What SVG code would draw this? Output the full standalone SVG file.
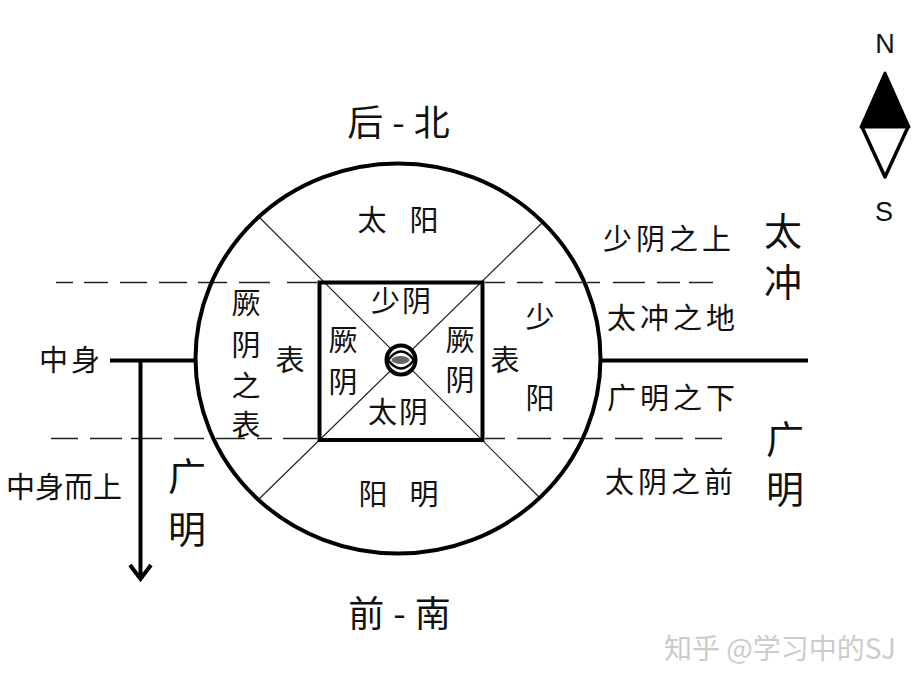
<svg xmlns="http://www.w3.org/2000/svg" width="919" height="686" viewBox="0 0 919 686">
<style>
text{font-family:"Noto Sans CJK SC","Noto Sans",sans-serif;fill:#111;text-anchor:middle}
.m{font-size:29px}.l{font-size:38px}.s{font-size:29px;letter-spacing:4px}.t{font-size:36px;letter-spacing:9px}
.thin{stroke:#222;stroke-width:1.2;fill:none}
.dash{stroke:#222;stroke-width:1.3;fill:none}
.thick{stroke:#000;stroke-width:4;fill:none}
.latin{font-family:"Liberation Sans",sans-serif;font-size:27px}
</style>
<rect width="919" height="686" fill="#fff"/>
<g id="connectors">
<path class="dash" d="M56 282.500H73M84 282.500H108M120 282.500H147M159 282.500H187M198 282.500H227M239 282.500H270M287 282.500H317M485 282.500H505M517 282.500H543M555 282.500H582M587 282.500H600M613 282.500H645M657 282.500H680M689 282.500H713"/>
<path class="dash" d="M51 438.500H78M90 438.500H122M131 438.500H162M174 438.500H204M216 438.500H245M257 438.500H272M283 438.500H317M485 438.500H505M517 438.500H551M563 438.500H603M615 438.500H643M655 438.500H683M695 438.500H722"/>
<path class="thin" d="M258 216L540 498M543 222L259 499"/>
<path class="thick" d="M110 360.500H195M600 360.500H808"/>
<path class="thick" d="M140.500 360V579M130 565L140.500 579L151 565"/>
</g>
<g id="outer-circle"><ellipse class="thick" cx="398" cy="358.500" rx="202.500" ry="195"/></g>
<g id="inner-square"><rect x="319.500" y="282.500" width="163" height="157.500" fill="none" stroke="#000" stroke-width="4"/></g>
<g id="center"><circle cx="401" cy="360" r="14.500" fill="#fff" stroke="#000" stroke-width="4"/><path d="M388 360Q401 343 414 360Q401 377 388 360Z" fill="#fff" stroke="#000" stroke-width="2.500"/><ellipse cx="400.500" cy="360" rx="9" ry="4" fill="#666"/></g>
<g id="compass"><path d="M861 127L885 73L909 127Z" fill="#000" stroke="#000" stroke-width="3" stroke-linejoin="round"/><path d="M862 127L885 177L908 127" fill="none" stroke="#000" stroke-width="3.500" stroke-linejoin="round"/><text class="latin" x="885" y="53">N</text><text class="latin" x="884" y="221">S</text></g>
<g id="north"><text class="t" x="403" y="136">后-北</text></g>
<g id="south"><text class="t" x="404" y="627">前-南</text></g>
<g id="taiyang"><text class="m" x="372" y="231">太</text><text class="m" x="424" y="231">阳</text></g>
<g id="yangming"><text class="m" x="373" y="505">阳</text><text class="m" x="424" y="505">明</text></g>
<g id="jueyin-outer"><text class="m" x="246" y="314">厥</text><text class="m" x="246" y="356">阴</text><text class="m" x="246" y="397">之</text><text class="m" x="246" y="436">表</text></g>
<g id="biao-left"><text class="m" x="290" y="371">表</text></g>
<g id="biao-right"><text class="m" x="505" y="371">表</text></g>
<g id="shaoyang"><text class="m" x="540" y="328">少</text><text class="m" x="540" y="409">阳</text></g>
<g id="shaoyin-inner"><text class="m" x="402" y="312" letter-spacing="2">少阴</text></g>
<g id="taiyin-inner"><text class="m" x="399" y="423" letter-spacing="2">太阴</text></g>
<g id="jueyin-left"><text class="m" x="343" y="351">厥</text><text class="m" x="343" y="393">阴</text></g>
<g id="jueyin-right"><text class="m" x="460" y="351">厥</text><text class="m" x="460" y="391">阴</text></g>
<g id="right-labels"><text class="s" x="669" y="250">少阴之上</text><text class="s" x="673" y="329">太冲之地</text><text class="s" x="673" y="409">广明之下</text><text class="s" x="671" y="493">太阴之前</text></g>
<g id="taichong"><text class="l" x="783" y="245">太</text><text class="l" x="783" y="296">冲</text></g>
<g id="guangming-right"><text class="l" x="785" y="453">广</text><text class="l" x="785" y="503">明</text></g>
<g id="guangming-left"><text class="l" x="187" y="490">广</text><text class="l" x="187" y="543">明</text></g>
<g id="zhongshen"><text class="m" x="71" y="371" letter-spacing="3">中身</text></g>
<g id="zhongshen-up"><text class="m" x="64" y="498">中身而上</text></g>
<g id="watermark"><text x="780" y="659" font-size="28" style="fill:#ccc">知乎 @学习中的SJ</text></g>
</svg>
